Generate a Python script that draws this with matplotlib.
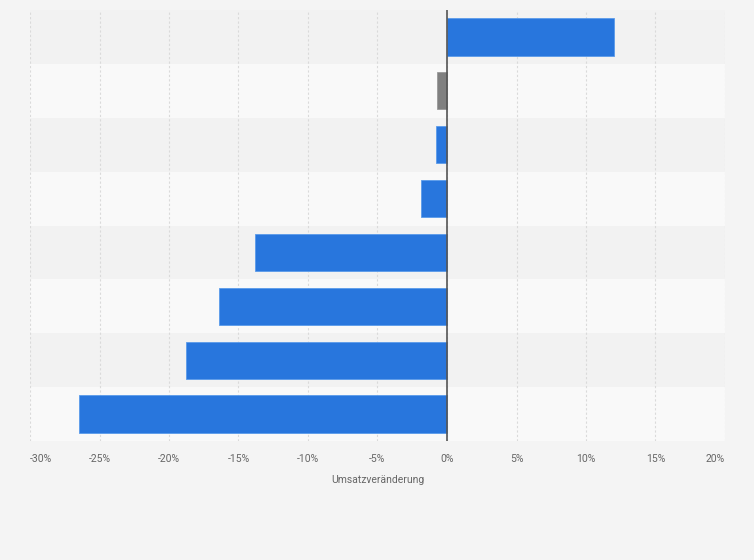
import matplotlib
matplotlib.use("Agg")
import matplotlib.pyplot as plt
import numpy as np

# values (percent change in revenue)
values = [12.0, -0.7, -0.8, -1.9, -13.8, -16.4, -18.8, -26.5]
bar_colors = ["#2876dd", "#808080", "#2876dd", "#2876dd",
              "#2876dd", "#2876dd", "#2876dd", "#2876dd"]
edge_colors = ["#5a9bea", "#999999", "#5a9bea", "#5a9bea",
               "#5a9bea", "#5a9bea", "#5a9bea", "#5a9bea"]
x_ticks = [-30, -25, -20, -15, -10, -5, 0, 5, 10, 15, 20]
x_label = "Umsatzveränderung"

plt.rcParams['font.family'] = ['Roboto', 'DejaVu Sans']

fig = plt.figure(figsize=(7.54, 5.60), dpi=100, facecolor="#f4f4f4")
ax = fig.add_axes([30 / 754, 1 - 441 / 560, 695 / 754, 431 / 560])
ax.set_facecolor("#f4f4f4")

n = len(values)
y = np.arange(n)

# alternating row bands
for i in range(n):
    band = "#f2f2f2" if i % 2 == 0 else "#f9f9f9"
    ax.axhspan(i - 0.5, i + 0.5, color=band, zorder=0, lw=0)

ax.barh(y, values, height=0.69, color=bar_colors, edgecolor=edge_colors,
        linewidth=0.6, zorder=3)

ax.axvline(0, color="#555555", lw=1.2, zorder=4)

ax.set_xlim(-30, 20)
ax.set_ylim(n - 0.5, -0.5)
ax.set_xticks(x_ticks)
ax.set_xticklabels([f"{t}%" for t in x_ticks])
ax.set_yticks([])
ax.grid(axis="x", color="#dadada", linestyle=(0, (2, 2)), lw=0.8, zorder=1)
ax.tick_params(axis="x", length=0, pad=9, labelsize=7.5, labelcolor="#666666")
labels = ax.get_xticklabels()
labels[0].set_ha("left")
labels[-1].set_ha("right")

for s in ax.spines.values():
    s.set_visible(False)

ax.set_xlabel(x_label, fontsize=7.5, color="#666666", labelpad=8)

fig.savefig("out.png", dpi=100, facecolor=fig.get_facecolor())
